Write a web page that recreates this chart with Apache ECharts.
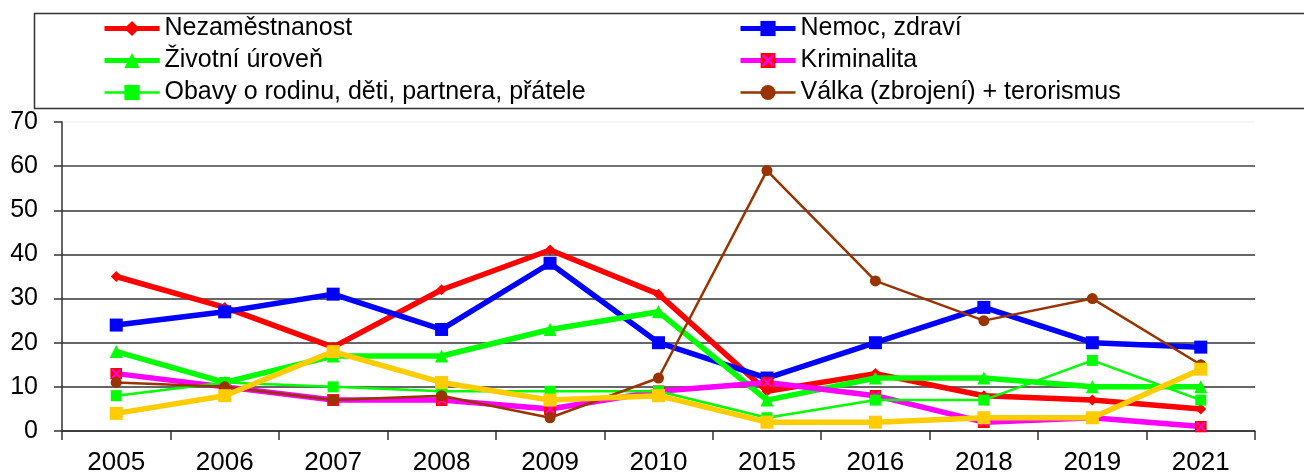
<!DOCTYPE html>
<html>
<head>
<meta charset="utf-8">
<script src="https://cdn.jsdelivr.net/npm/echarts@6/dist/echarts.min.js"></script>
<style>html,body{margin:0;padding:0;background:#fff}#c{width:1304px;height:476px}</style>
</head>
<body>
<div id="c"></div>
<script>
const categories = ['2005','2006','2007','2008','2009','2010','2015','2016','2018','2019','2021'];
const yTicks = [0,10,20,30,40,50,60,70];
const nezamestnanost = [35,28,19,32,41,31,9,13,8,7,5];
const nemoc = [24,27,31,23,38,20,12,20,28,20,19];
const zivotniUroven = [18,11,17,17,23,27,7,12,12,10,10];
const kriminalita = [13,10,7,7,5,9,11,8,2,3,1];
const obavy = [8,11,10,9,9,9,3,7,7,16,7];
const valka = [11,10,7,8,3,12,59,34,25,30,15];
const dalsi = [4,8,18,11,7,8,2,2,3,3,14];
const names = ['Nezaměstnanost','Nemoc, zdraví','Životní úroveň','Kriminalita','Obavy o rodinu, děti, partnera, přátele','Válka (zbrojení) + terorismus','Ostatní'];

const kSvg = "<svg xmlns='http://www.w3.org/2000/svg' width='20' height='20'><rect width='20' height='20' fill='#ff0000'/><path d='M3 3L17 17M17 3L3 17' stroke='#ff00ff' stroke-width='3'/></svg>";
const kSymbol = 'image://data:image/svg+xml;charset=utf-8,' + encodeURIComponent(kSvg);

const font = 'Liberation Sans, Arial, sans-serif';
const styles = [
  {color: '#ff0000', width: 5.5, symbol: 'diamond', size: 11},
  {color: '#0000ff', width: 5.5, symbol: 'rect', size: 13},
  {color: '#00ff00', width: 5.5, symbol: 'triangle', size: 13},
  {color: '#ff00ff', width: 5.5, symbol: kSymbol, size: 12},
  {color: '#00ff00', width: 2.5, symbol: 'rect', size: 11},
  {color: '#993300', width: 2.5, symbol: 'circle', size: 11},
  {color: '#ffcc00', width: 5.5, symbol: 'rect', size: 13}
];
const values = [nezamestnanost, nemoc, zivotniUroven, kriminalita, obavy, valka, dalsi];
const series = values.map((data, i) => ({
  name: names[i], type: 'line', data, symbol: styles[i].symbol, symbolSize: styles[i].size, z: 2 + i,
  lineStyle: {color: styles[i].color, width: styles[i].width},
  itemStyle: {color: styles[i].color, borderWidth: 0},
  emphasis: {disabled: true}
}));
function legendItem(i) {
  return {name: names[i], lineStyle: {width: styles[i].width > 4 ? 5 : 2.5, color: styles[i].color}};
}
const chart = echarts.init(document.getElementById('c'), null, {renderer: 'canvas'});
const legendCommon = {
  orient: 'vertical', top: 16, itemWidth: 55, itemHeight: 19, itemGap: 7,
  textStyle: {fontFamily: font, fontSize: 25, color: '#000'},
  selectedMode: false, padding: 0
};
chart.setOption({
  animation: false,
  textStyle: {fontFamily: font},
  graphic: [{type: 'rect', shape: {x: 34.5, y: 13.5, width: 1290, height: 95}, style: {fill: 'none', stroke: '#333', lineWidth: 1.5}, silent: true}],
  legend: [
    Object.assign({}, legendCommon, {left: 102, data: [legendItem(0), legendItem(2), legendItem(4)]}),
    Object.assign({}, legendCommon, {left: 738, data: [legendItem(1), legendItem(3), legendItem(5)]})
  ],
  grid: {left: 62, right: 49, top: 122, bottom: 43, containLabel: false},
  xAxis: {
    type: 'category', data: categories, boundaryGap: true,
    axisLine: {lineStyle: {color: '#333', width: 1.5}},
    axisTick: {show: true, length: 9, lineStyle: {color: '#333', width: 1.5}},
    axisLabel: {fontSize: 26, color: '#000', margin: 19, fontFamily: font},
    splitLine: {show: false}
  },
  yAxis: {
    type: 'value', min: 0, max: 70, interval: 10,
    axisLine: {show: true, lineStyle: {color: '#333', width: 1.5}},
    axisTick: {show: true, length: 8, lineStyle: {color: '#333', width: 1.5}},
    axisLabel: {fontSize: 25, color: '#000', margin: 24, fontFamily: font,
      formatter: v => yTicks.includes(v) ? String(v) : ''},
    splitLine: {show: true, lineStyle: {color: ['#333','#333','#333','#333','#333','#333','#444','#f2f2f2'], width: 1.5}}
  },
  series
});
</script>
</body>
</html>
